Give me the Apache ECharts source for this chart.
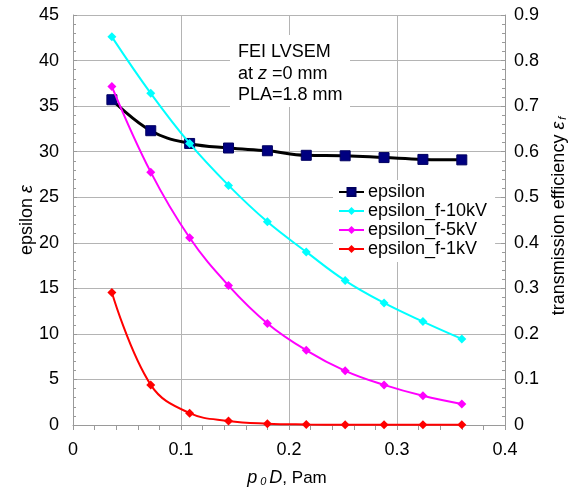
<!DOCTYPE html>
<html>
<head>
<meta charset="utf-8">
<script src="https://cdn.jsdelivr.net/npm/echarts@6/dist/echarts.min.js"></script>
<style>
html,body{margin:0;padding:0;background:#fff;}
#chart{width:579px;height:490px;}
</style>
</head>
<body>
<div id="chart"></div>
<script>
// ---- data ----
var p0D = [0.036, 0.072, 0.108, 0.144, 0.18, 0.216, 0.252, 0.288, 0.324, 0.36];
var epsilon = [35.7, 32.3, 30.9, 30.4, 30.1, 29.6, 29.55, 29.35, 29.15, 29.1];
var epsF10kV = [0.852, 0.728, 0.618, 0.526, 0.446, 0.380, 0.317, 0.268, 0.227, 0.189];
var epsF5kV = [0.743, 0.555, 0.411, 0.306, 0.223, 0.164, 0.119, 0.088, 0.064, 0.046];
var epsF1kV = [0.291, 0.088, 0.026, 0.009, 0.003, 0.0012, 0.0006, 0.0004, 0.0003, 0.0003];
var seriesNames = ['epsilon', 'epsilon_f-10kV', 'epsilon_f-5kV', 'epsilon_f-1kV'];
var xTickLabels = ['0', '0.1', '0.2', '0.3', '0.4'];
var leftTickLabels = ['0', '5', '10', '15', '20', '25', '30', '35', '40', '45'];
var rightTickLabels = ['0', '0.1', '0.2', '0.3', '0.4', '0.5', '0.6', '0.7', '0.8', '0.9'];

function pairs(xs, ys) { return xs.map(function (x, i) { return [x, ys[i]]; }); }

var FONT = '"Liberation Sans", Arial, Helvetica, sans-serif';
var gridColor = '#b4b4b4';
var axisColor = '#9a9a9a';

var chart = echarts.init(document.getElementById('chart'), null, {renderer: 'canvas'});

var option = {
  animation: false,
  backgroundColor: '#fff',
  grid: {left: 73, right: 74, top: 15, bottom: 65, containLabel: false},
  xAxis: {
    type: 'value', min: 0, max: 0.4, interval: 0.1,
    axisLine: {show: true, onZero: false, lineStyle: {color: axisColor, width: 1}},
    axisTick: {show: true, length: 5, lineStyle: {color: axisColor}},
    minorTick: {show: true, splitNumber: 5, length: 5, lineStyle: {color: axisColor}},
    splitLine: {show: true, lineStyle: {color: gridColor, width: 1}},
    axisLabel: {
      fontSize: 18, color: '#000', fontFamily: FONT, margin: 16,
      formatter: function (v) { return xTickLabels[Math.round(v * 10)]; }
    }
  },
  yAxis: [{
    type: 'value', min: 0, max: 45, interval: 5, position: 'left',
    axisLine: {show: true, lineStyle: {color: axisColor, width: 1}},
    axisTick: {show: true, inside: true, length: 4, lineStyle: {color: axisColor}},
    minorTick: {show: true, splitNumber: 5, length: 3, lineStyle: {color: axisColor}},
    splitLine: {show: true, lineStyle: {color: gridColor, width: 1}},
    axisLabel: {
      fontSize: 18, color: '#000', fontFamily: FONT, margin: 14,
      formatter: function (v) { return leftTickLabels[Math.round(v / 5)]; }
    }
  }, {
    type: 'value', min: 0, max: 0.9, interval: 0.1, position: 'right',
    axisLine: {show: true, lineStyle: {color: axisColor, width: 1}},
    axisTick: {show: true, inside: true, length: 4, lineStyle: {color: axisColor}},
    minorTick: {show: true, splitNumber: 5, length: 3, lineStyle: {color: axisColor}},
    splitLine: {show: false},
    axisLabel: {
      fontSize: 18, color: '#000', fontFamily: FONT, margin: 9,
      formatter: function (v) { return rightTickLabels[Math.round(v * 10)]; }
    }
  }],
  legend: {
    orient: 'vertical', left: 333, top: 180,
    backgroundColor: '#fff', padding: [3, 8, 4, 5],
    itemWidth: 25, itemHeight: 10, itemGap: 1,
    textStyle: {fontSize: 18, color: '#000', fontFamily: FONT, lineHeight: 18, padding: [0, 0, 0, -1]},
    data: seriesNames
  },
  series: [{
    name: seriesNames[0], type: 'line', yAxisIndex: 0, smooth: 0.4,
    data: pairs(p0D, epsilon),
    symbol: 'rect', symbolSize: 10,
    itemStyle: {color: '#000080', borderColor: '#000060', borderWidth: 1},
    lineStyle: {color: '#000', width: 3}, z: 2
  }, {
    name: seriesNames[1], type: 'line', yAxisIndex: 1, smooth: 0.4,
    data: pairs(p0D, epsF10kV),
    symbol: 'diamond', symbolSize: 9,
    itemStyle: {color: '#00ffff'},
    lineStyle: {color: '#00ffff', width: 2}, z: 3
  }, {
    name: seriesNames[2], type: 'line', yAxisIndex: 1, smooth: 0.4,
    data: pairs(p0D, epsF5kV),
    symbol: 'diamond', symbolSize: 9,
    itemStyle: {color: '#ff00ff'},
    lineStyle: {color: '#ff00ff', width: 2}, z: 3
  }, {
    name: seriesNames[3], type: 'line', yAxisIndex: 1, smooth: 0.4,
    data: pairs(p0D, epsF1kV),
    symbol: 'diamond', symbolSize: 9,
    itemStyle: {color: '#ff0000'},
    lineStyle: {color: '#ff0000', width: 2}, z: 3
  }],
  graphic: [
    {type: 'rect', left: 230, top: 35, shape: {width: 120, height: 72}, style: {fill: '#fff'}, z: 1},
    {type: 'text', left: 238, top: 43, style: {text: 'FEI LVSEM', font: '18px ' + FONT, fill: '#000'}, z: 2},
    {type: 'text', left: 238, top: 65, style: {
      text: 'at {i|z} =0 mm', font: '18px ' + FONT, fill: '#000',
      rich: {i: {fontStyle: 'italic', fontSize: 18, fontFamily: FONT}}
    }, z: 2},
    {type: 'text', left: 238, top: 86, style: {text: 'PLA=1.8 mm', font: '18px ' + FONT, fill: '#000'}, z: 2},
    {type: 'text', x: 27, y: 220, rotation: Math.PI / 2, style: {
      text: 'epsilon {i|\u03b5}', font: '18px ' + FONT, fill: '#000',
      align: 'center', verticalAlign: 'middle',
      rich: {i: {fontStyle: 'italic', fontSize: 18, fontFamily: FONT}}
    }},
    {type: 'text', x: 559, y: 216, rotation: Math.PI / 2, style: {
      text: 'transmission efficiency {i|\u03b5}{s|f}', font: '18px ' + FONT, fill: '#000',
      align: 'center', verticalAlign: 'middle',
      rich: {
        i: {fontStyle: 'italic', fontSize: 18, fontFamily: FONT},
        s: {fontStyle: 'italic', fontSize: 11, fontFamily: FONT, padding: [8, 0, 0, 2]}
      }
    }},
    {type: 'text', x: 287, y: 478, style: {
      text: '{i|p}{s|0}{i|D}, Pam', font: '17px ' + FONT, fill: '#000',
      align: 'center', verticalAlign: 'middle',
      rich: {
        i: {fontStyle: 'italic', fontSize: 18, fontFamily: FONT},
        s: {fontStyle: 'italic', fontSize: 11, fontFamily: FONT, padding: [7, 3, 0, 3]}
      }
    }}
  ]
};
chart.setOption(option);
</script>
</body>
</html>
